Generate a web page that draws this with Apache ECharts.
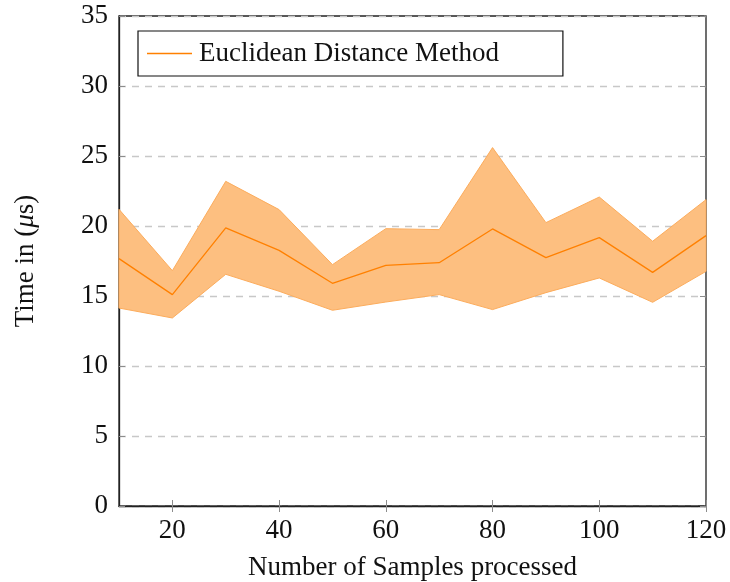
<!DOCTYPE html>
<html>
<head>
<meta charset="utf-8">
<script src="https://cdn.jsdelivr.net/npm/echarts@6/dist/echarts.min.js"></script>
<style>
  html, body { margin: 0; padding: 0; background: #fff; }
  #chart { width: 730px; height: 582px; }
</style>
</head>
<body>
<div id="chart"></div>
<script>
// Samples processed per run
const samples = [10, 20, 30, 40, 50, 60, 70, 80, 90, 100, 110, 120];
// Mean time per run (µs)
const meanTime = [17.67, 15.1, 19.86, 18.26, 15.91, 17.19, 17.38, 19.79, 17.74, 19.17, 16.69, 19.31];
// Lower and upper bound of the spread (µs)
const lowerTime = [14.14, 13.43, 16.55, 15.34, 13.98, 14.57, 15.1, 14.03, 15.24, 16.29, 14.55, 16.76];
const upperTime = [21.19, 16.81, 23.19, 21.17, 17.24, 19.81, 19.74, 25.6, 20.24, 22.07, 18.91, 21.88];
// Tick values
const xTicks = [20, 40, 60, 80, 100, 120];

const seriesName = 'Euclidean Distance Method';
const font = "'Liberation Serif', 'DejaVu Serif', serif";
const orange = '#ff8000';
const bandFill = '#fdbf80';
const bandEdge = '#fcac5c';

const meanPairs = samples.map((x, i) => [x, meanTime[i]]);

const chart = echarts.init(document.getElementById('chart'), null, { renderer: 'canvas' });

const tickStyle = { show: true, inside: true, length: 6, lineStyle: { color: '#8c8c8c', width: 1 } };

// Filled band between lower and upper bounds, placed through the axis scales
function renderBand(params, api) {
  const upperPts = samples.map((x, i) => api.coord([x, upperTime[i]]));
  const lowerPts = samples.map((x, i) => api.coord([x, lowerTime[i]])).reverse();
  return {
    type: 'polygon',
    shape: { points: upperPts.concat(lowerPts) },
    style: { fill: bandFill, stroke: bandEdge, lineWidth: 1 },
    silent: true
  };
}

chart.setOption({
  animation: false,
  backgroundColor: '#fff',
  textStyle: { fontFamily: font },
  grid: {
    left: 119, right: 24, top: 16, bottom: 76,
    outerBoundsMode: 'none',
    containLabel: false,
    show: true, borderColor: '#222', borderWidth: 1.3, backgroundColor: 'transparent'
  },
  legend: {
    data: [seriesName],
    left: 138, top: 31,
    orient: 'horizontal',
    padding: [9, 64, 9, 9],
    borderColor: '#111', borderWidth: 1.2,
    backgroundColor: '#fff',
    icon: 'rect',
    itemWidth: 45, itemHeight: 1.3,
    itemStyle: { color: orange },
    textStyle: { fontFamily: font, fontSize: 27, color: '#111', padding: [0, 0, 0, 2] }
  },
  xAxis: [{
    type: 'value',
    min: 10, max: 120,
    name: 'Number of Samples processed',
    nameLocation: 'middle',
    nameGap: 48,
    nameTextStyle: { fontFamily: font, fontSize: 27, color: '#111' },
    axisLine: { show: true, lineStyle: { color: '#222', width: 1.3 } },
    axisTick: Object.assign({ customValues: xTicks }, tickStyle),
    axisLabel: { customValues: xTicks, margin: 11, fontFamily: font, fontSize: 27, color: '#111' },
    splitLine: { show: false }
  }, {
    type: 'value',
    position: 'top',
    min: 10, max: 120,
    axisLine: { show: false },
    axisTick: Object.assign({ customValues: xTicks }, tickStyle),
    axisLabel: { show: false },
    splitLine: { show: false }
  }],
  yAxis: [{
    type: 'value',
    min: 0, max: 35, interval: 5,
    name: '{a|Time in (}{b|μ}{a|s)}',
    nameLocation: 'middle',
    nameGap: 80,
    nameRotate: 90,
    nameTextStyle: {
      fontFamily: font, fontSize: 27, color: '#111',
      rich: {
        a: { fontFamily: font, fontSize: 27, color: '#111' },
        b: { fontFamily: font, fontSize: 27, color: '#111', fontStyle: 'italic' }
      }
    },
    axisLine: { show: true, lineStyle: { color: '#222', width: 1.3 } },
    axisTick: tickStyle,
    axisLabel: { margin: 11, fontFamily: font, fontSize: 27, color: '#111' },
    splitLine: { show: true, lineStyle: { color: '#c8c8c8', type: [7, 6], width: 1.3 } }
  }, {
    type: 'value',
    position: 'right',
    min: 0, max: 35, interval: 5,
    axisLine: { show: false },
    axisTick: tickStyle,
    axisLabel: { show: false },
    splitLine: { show: false }
  }],
  series: [{
    name: 'band',
    type: 'custom',
    renderItem: renderBand,
    data: [[samples[0], lowerTime[0]]],
    silent: true,
    z: 2
  }, {
    name: seriesName,
    type: 'line',
    data: meanPairs,
    symbol: 'none',
    lineStyle: { color: orange, width: 1.3 },
    itemStyle: { color: orange },
    z: 3
  }]
});
</script>
</body>
</html>
